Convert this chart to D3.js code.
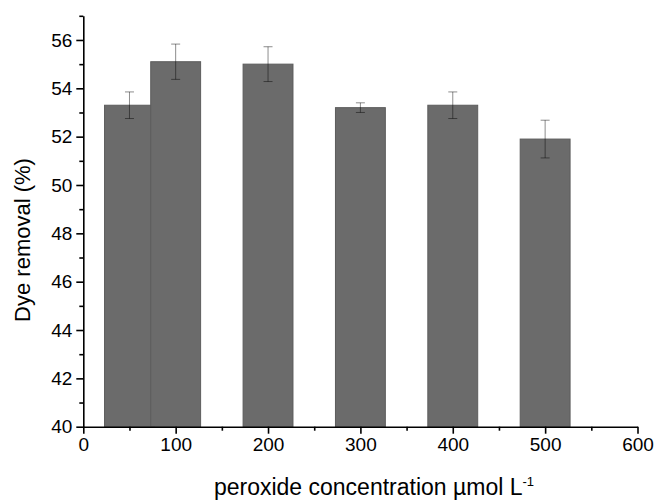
<!DOCTYPE html>
<html>
<head>
<meta charset="utf-8">
<script src="https://cdn.jsdelivr.net/npm/d3@7"></script>
<style>
  body { margin: 0; background: #fff; }
  text { font-family: "Liberation Sans", Arial, sans-serif; fill: #000; }
</style>
</head>
<body>
<div id="chart"></div>
<script>
// data
var concentrations = [50, 100, 200, 300, 400, 500];
var removal = [53.3, 55.1, 55.0, 53.2, 53.3, 51.9];
var errors = [0.55, 0.73, 0.72, 0.2, 0.55, 0.78];
var xTicks = [0, 100, 200, 300, 400, 500, 600];
var xMinor = [50, 150, 250, 350, 450, 550];
var yTicks = [40, 42, 44, 46, 48, 50, 52, 54, 56];
var yMinor = [41, 43, 45, 47, 49, 51, 53, 55, 57];

var W = 657, H = 502;
var barWidth = 54; // in x units

var x = d3.scaleLinear().domain([0, 600]).range([83.3, 637.5]);
var y = d3.scaleLinear().domain([40, 57]).range([426.7, 15.8]);

var svg = d3.select("#chart").append("svg")
    .attr("width", W)
    .attr("height", H);

// bars
svg.selectAll("rect.bar")
    .data(concentrations)
  .enter().append("rect")
    .attr("class", "bar")
    .attr("x", function(d) { return x(d - barWidth / 2); })
    .attr("width", function(d) { return x(barWidth) - x(0); })
    .attr("y", function(d, i) { return y(removal[i]); })
    .attr("height", function(d, i) { return y(40) - y(removal[i]); })
    .attr("fill", "#6b6b6b")
    .attr("stroke", "#5c5c5c")
    .attr("stroke-width", 1);

// error bars
var err = svg.selectAll("g.err")
    .data(concentrations)
  .enter().append("g")
    .attr("class", "err")
    .attr("stroke", "#000")
    .attr("stroke-opacity", 0.45)
    .attr("stroke-width", 1);

err.append("line")
    .attr("x1", function(d) { return x(d); })
    .attr("x2", function(d) { return x(d); })
    .attr("y1", function(d, i) { return y(removal[i] + errors[i]); })
    .attr("y2", function(d, i) { return y(removal[i] - errors[i]); });

[1, -1].forEach(function(s) {
  err.append("line")
      .attr("x1", function(d) { return x(d) - 4.5; })
      .attr("x2", function(d) { return x(d) + 4.5; })
      .attr("y1", function(d, i) { return y(removal[i] + s * errors[i]); })
      .attr("y2", function(d, i) { return y(removal[i] + s * errors[i]); });
});

// axes
svg.append("g")
    .attr("transform", "translate(0," + y(40) + ")")
    .call(d3.axisBottom(x).tickValues(xTicks).tickSize(7).tickPadding(4).tickSizeOuter(0));

svg.append("g")
    .attr("transform", "translate(0," + y(40) + ")")
    .call(d3.axisBottom(x).tickValues(xMinor).tickSize(4).tickFormat("").tickSizeOuter(0))
    .select(".domain").remove();

svg.append("g")
    .attr("transform", "translate(" + x(0) + ",0)")
    .call(d3.axisLeft(y).tickValues(yTicks).tickSize(7).tickPadding(4).tickSizeOuter(0));

svg.append("g")
    .attr("transform", "translate(" + x(0) + ",0)")
    .call(d3.axisLeft(y).tickValues(yMinor).tickSize(4).tickFormat("").tickSizeOuter(0))
    .select(".domain").remove();

svg.selectAll(".domain, .tick line")
    .attr("stroke", "#000")
    .attr("stroke-width", 1.6);

svg.selectAll(".tick text")
    .style("font-family", "'Liberation Sans', Arial, sans-serif")
    .style("font-size", "19px")
    .attr("fill", "#000");

// axis titles
svg.append("text")
    .attr("transform", "translate(30," + 240 + ") rotate(-90)")
    .attr("text-anchor", "middle")
    .style("font-size", "22px")
    .text("Dye removal  (%)");

var xl = svg.append("text")
    .attr("x", 374)
    .attr("y", 495)
    .attr("text-anchor", "middle")
    .style("font-size", "23px");
xl.append("tspan").text("peroxide concentration \u00b5mol L");
xl.append("tspan")
    .attr("dy", -9)
    .style("font-size", "13px")
    .text("-1");
</script>
</body>
</html>
